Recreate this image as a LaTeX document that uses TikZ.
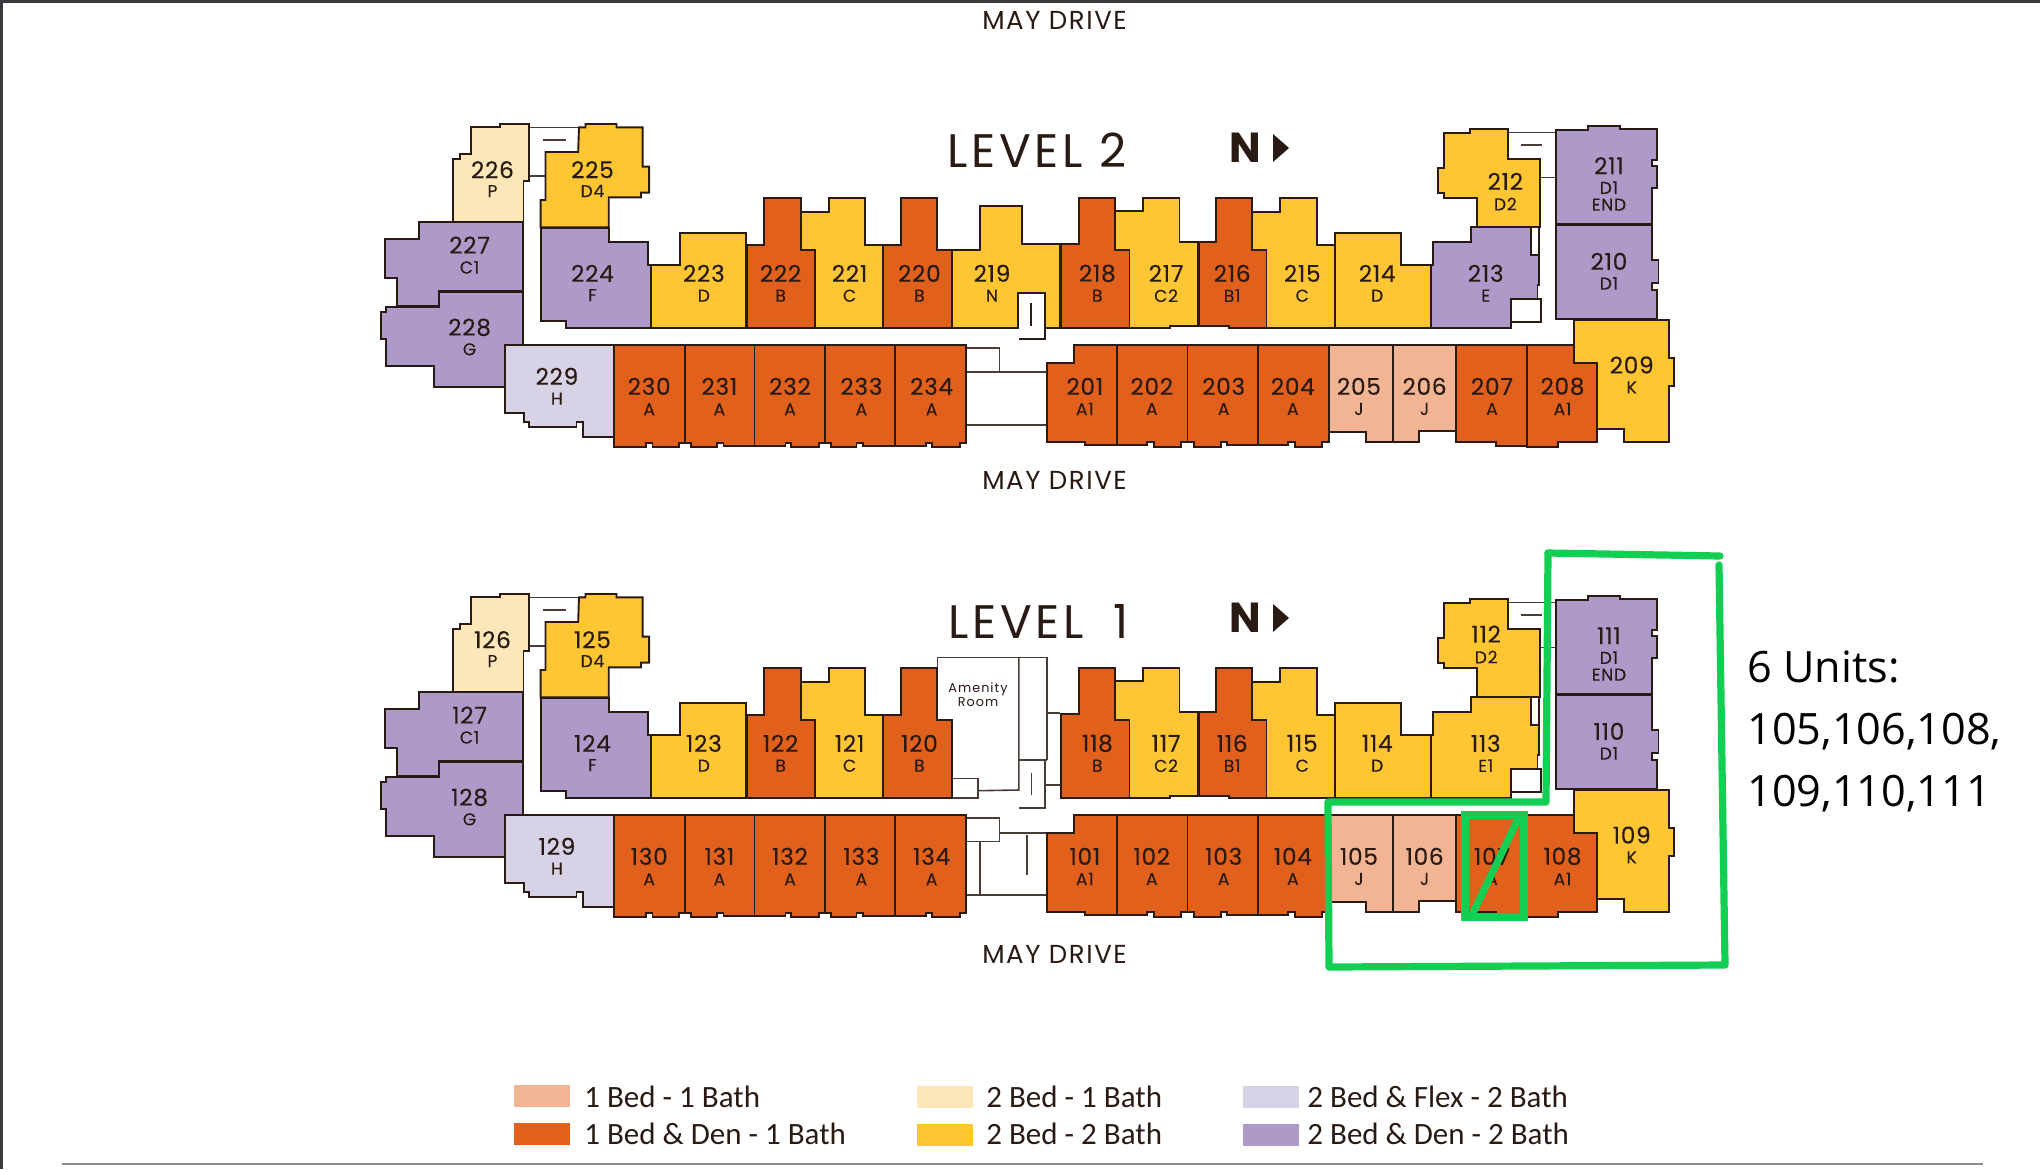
\documentclass[tikz,border=0pt]{standalone}
\usepackage{fontspec}
\setmainfont{Open Sans}
\newfontfamily\plan{Poppins}
\newfontfamily\planw{Poppins}[LetterSpace=3,FakeBold=0.25]
\newfontfamily\planc{Poppins}[LetterSpace=4,FakeBold=0.15]
\newfontfamily\planl{Poppins}[LetterSpace=7.6]
\newfontfamily\planr{Poppins}[LetterSpace=6]
\newfontfamily\plana{Poppins}[LetterSpace=8]
\newfontfamily\legendf{Carlito}
\definecolor{peach}{HTML}{F2B594}
\definecolor{orng}{HTML}{E0601C}
\definecolor{pale}{HTML}{FDE7B8}
\definecolor{yell}{HTML}{FEC632}
\definecolor{lilac}{HTML}{D8D2E6}
\definecolor{purp}{HTML}{AD9AC8}
\definecolor{ink}{HTML}{2A1A14}
\definecolor{mark}{HTML}{12CE52}
\definecolor{rulec}{HTML}{8C8C8C}
\definecolor{edge}{HTML}{3A3A3E}
\tikzset{
  wall/.style={draw=ink,line width=0.95pt,line join=miter},
  thin wall/.style={draw=ink!85,line width=0.8pt},
  numl/.style={font=\planw\fontsize{11.6}{13}\selectfont,text=ink,inner sep=0pt,yshift=0.5pt},
  codel/.style={font=\planc\fontsize{8.6}{10}\selectfont,text=ink,inner sep=0pt},
  road/.style={font=\planr\fontsize{13}{15}\selectfont,text=ink,inner sep=0pt},
  level/.style={font=\planl\fontsize{23.5}{27}\selectfont,text=ink,inner sep=0pt},
  north/.style={font=\plan\bfseries\fontsize{21}{24}\selectfont,text=ink,inner sep=0pt},
  legt/.style={font=\legendf\fontsize{15.5}{18}\selectfont,text=ink,inner sep=0pt,anchor=base west},
  swatch/.style={minimum width=28pt,minimum height=11pt,inner sep=0pt,draw=none,anchor=north west},
  greenline/.style={draw=mark,line width=3.6pt,line cap=round,line join=round},
  note/.style={font=\fontsize{21.6}{26}\selectfont,text=black,inner sep=0pt,anchor=base west},
}
\newcommand\unit[2]{\draw[wall,fill=#1] plot coordinates {#2} -- cycle;}
\newcommand\lab[5]{\node[numl] (n\fl#1) at (#3,#4) {\fl#1};\node[codel] (c\fl#1) at (#3,#5) {#2};}
\newcommand\lvlcommon[7]{%
\def\fl{#1}%
\begin{scope}[yshift=#4]
\begin{scope}[shift={(370,110)},xscale=0.40816,yscale=0.33333]
\draw[thin wall] (390,52) -- (512,52) (424,90) -- (480,90) (390,198) -- (430,198);
\unit{pale}{(248,52)(318,52)(318,42)(390,42)(390,212)(376,212)(376,335)(204,335)(204,148)(220,148)(220,132)(248,132)}
\unit{yell}{(512,52)(528,52)(528,42)(604,42)(604,52)(668,52)(668,170)(684,170)(684,248)(664,248)(664,262)(585,262)(585,352)(418,352)(418,270)(430,270)(430,126)(510,126)}
\unit{purp}{(120,337)(374,337)(374,543)(170,543)(170,587)(66,587)(66,505)(36,505)(36,388)(120,388)}
\unit{purp}{(170,545)(374,545)(374,706)(330,706)(330,830)(156,830)(156,767)(40,767)(40,688)(26,688)(26,605)(40,605)(40,590)(170,590)}
\unit{purp}{(418,355)(585,355)(585,395)(680,395)(680,465)(688,465)(688,655)(480,655)(480,632)(418,632)}
\unit{yell}{(688,466)(760,466)(760,368)(922,368)(922,655)(688,655)}
\unit{orng}{(966,405)(966,265)(1056,265)(1056,420)(1090,420)(1090,655)(924,655)(924,405)}
\unit{yell}{(1056,305)(1124,305)(1124,265)(1212,265)(1212,406)(1256,406)(1256,655)(1090,655)(1090,420)(1056,420)}
\unit{orng}{(1258,406)(1302,406)(1302,263)(1390,263)(1390,420)(1426,420)(1426,655)(1258,655)}
\unit{lilac}{(330,706)(598,706)(598,980)(522,980)(522,935)(506,935)(506,952)(390,952)(390,935)(378,935)(378,908)(330,908)}
\unit{orng}{(598,706)(771,706)(771,998)(756,998)(756,1010)(692,1010)(692,998)(676,998)(676,1010)(598,1010)}
\unit{orng}{(771,706)(942,706)(942,1007)(866,1007)(866,998)(850,998)(850,1010)(786,1010)(786,998)(771,998)}
\unit{orng}{(942,706)(1115,706)(1115,998)(1100,998)(1100,1010)(1032,1010)(1032,998)(1018,998)(1018,1007)(942,1007)}
\unit{orng}{(1115,706)(1287,706)(1287,1007)(1208,1007)(1208,998)(1192,998)(1192,1010)(1130,1010)(1130,998)(1115,998)}
\unit{orng}{(1287,706)(1460,706)(1460,998)(1445,998)(1445,1010)(1376,1010)(1376,998)(1362,998)(1362,1007)(1287,1007)}
\lab{26}{P}{300}{182}{243}
\lab{25}{D4}{545}{182}{243}
\lab{27}{C1}{244}{408}{472}
\lab{28}{G}{244}{655}{718}
\lab{24}{F}{545}{493}{555}
\lab{23}{D}{818}{493}{557}
\lab{22}{B}{1006}{493}{557}
\lab{21}{C}{1175}{493}{557}
\lab{20}{B}{1346}{493}{557}
\lab{29}{H}{458}{802}{866}
\lab{30}{A}{684}{832}{898}
\lab{31}{A}{856}{832}{898}
\lab{32}{A}{1029}{832}{898}
\lab{33}{A}{1204}{832}{898}
\lab{34}{A}{1376}{832}{898}
\end{scope}
\begin{scope}[shift={(1000,110)},xscale=0.44643,yscale=0.33333]
\draw[thin wall] (1137,68) -- (1245,68) (1167,105) -- (1214,105) (1210,203) -- (1245,203);
\draw[wall,fill=white] (1190,352) rectangle (1208,434);
\draw[wall,fill=white] (1145,568) rectangle (1212,635);
\unit{orng}{(176,402)(176,265)(258,265)(258,420)(290,420)(290,655)(136,655)(136,402)}
\unit{yell}{(258,302)(320,302)(320,265)(402,265)(402,397)(444,397)(444,647)(380,647)(380,655)(290,655)(290,420)(258,420)}
\unit{orng}{(446,397)(484,397)(484,265)(565,265)(565,420)(597,420)(597,655)(512,655)(512,647)(446,647)}
\unit{yell}{(565,305)(628,305)(628,265)(710,265)(710,406)(750,406)(750,655)(597,655)(597,420)(565,420)}
\unit{yell}{(750,368)(898,368)(898,466)(966,466)(966,655)(750,655)}
\unit{#2}{(970,395)(1056,395)(1056,352)(1190,352)(1190,434)(1208,434)(1208,525)(1204,525)(1204,568)(1145,568)(1145,655)(966,655)(966,466)(970,466)}
\unit{yell}{(995,68)(1052,68)(1052,58)(1137,58)(1137,146)(1210,146)(1210,350)(1068,350)(1068,263)(995,263)(995,250)(982,250)(982,175)(995,175)}
\unit{purp}{(1245,60)(1318,60)(1318,48)(1388,48)(1388,58)(1472,58)(1472,150)(1460,150)(1460,168)(1472,168)(1472,235)(1460,235)(1460,342)(1245,342)}
\unit{purp}{(1245,345)(1460,345)(1460,450)(1475,450)(1475,518)(1460,518)(1460,540)(1472,540)(1472,628)(1245,628)}
\unit{orng}{(165,706)(262,706)(262,1005)(190,1005)(190,995)(105,995)(105,758)(165,758)}
\unit{orng}{(262,706)(420,706)(420,997)(405,997)(405,1010)(345,1010)(345,997)(330,997)(330,1005)(262,1005)}
\unit{orng}{(420,706)(577,706)(577,1005)(508,1005)(508,997)(495,997)(495,1010)(435,1010)(435,997)(420,997)}
\unit{orng}{(577,706)(736,706)(736,997)(722,997)(722,1012)(660,1012)(660,997)(645,997)(645,1005)(577,1005)}
\unit{peach}{(736,706)(880,706)(880,995)(820,995)(820,965)(736,965)}
\unit{peach}{(880,706)(1022,706)(1022,963)(938,963)(938,995)(880,995)}
\unit{orng}{(1022,706)(1180,706)(1180,1008)(1112,1008)(1112,995)(1022,995)}
\unit{orng}{(1180,706)(1285,706)(1285,758)(1338,758)(1338,995)(1250,995)(1250,1010)(1180,1010)}
\unit{yell}{(1285,630)(1498,630)(1498,745)(1510,745)(1510,828)(1498,828)(1498,995)(1398,995)(1398,957)(1338,957)(1338,758)(1285,758)}
\lab{18}{B}{218}{493}{557}
\lab{17}{C2}{372}{493}{557}
\lab{16}{B1}{520}{493}{557}
\lab{15}{C}{677}{493}{557}
\lab{14}{D}{845}{493}{557}
\lab{13}{#3}{1088}{493}{557}
\lab{12}{D2}{#5}{#6}{#7}
\lab{11}{D1}{1364}{170}{233}
\node[codel] (e\fl11) at (1364,284) {END};
\lab{10}{D1}{1364}{457}{520}
\lab{09}{K}{1415}{768}{832}
\lab{01}{A1}{190}{832}{897}
\lab{02}{A}{340}{832}{897}
\lab{03}{A}{501}{832}{897}
\lab{04}{A}{656}{832}{897}
\lab{05}{J}{804}{832}{897}
\lab{06}{J}{951}{832}{897}
\lab{07}{A}{1102}{832}{897}
\lab{08}{A1}{1260}{832}{897}
\end{scope}
\node[north] (north\fl) at (1245,148) {N};
\fill[ink] (1273,134) -- (1289,148) -- (1273,162) -- cycle;
\end{scope}}
\begin{document}
\begin{tikzpicture}[x=0.5pt,y=-0.5pt]
\useasboundingbox (0,0) rectangle (2040,1169);
\fill[white] (0,0) rectangle (2040,1169);
\draw[edge,line width=1.5pt] (1.5,1169) -- (1.5,1.5) -- (2040,1.5);
\node[road] (road0) at (1054.5,20) {MAY DRIVE};
\node[road] (road2) at (1054.5,480) {MAY DRIVE};
\node[road] (road1) at (1054.5,954) {MAY DRIVE};
\node[level] (lev2) at (1037,150.5) {LEVEL 2};
\node[level] (lev1) at (1039,621.5) {LEVEL\hspace{7pt} 1};
% level 2 extras
\draw[thin wall] (966.7,348) -- (999.4,348) -- (999.4,372) -- (966.7,372);
\draw[thin wall] (999.4,372) -- (1047,372) (966.7,425) -- (1047,425);
\lvlcommon{2}{purp}{E}{0pt}{1132}{217}{282}
\unit{yell}{(952,250)(979.8,250)(979.8,206)(1022.3,206)(1022.3,244)(1060.3,244)(1060.3,328.3)(1044.6,328.3)(1044.6,292.7)(1017.9,292.7)(1017.9,328.3)(952,328.3)}
\draw[wall] (1044.6,292.7) -- (1044.6,339.3) -- (1018.5,339.3);
\draw[wall] (1031.3,303.3) -- (1031.3,326);
\node[numl] (n219) at (992,274.3) {219};
\node[codel] (c219) at (992,295.7) {N};
% level 1 extras
\draw[thin wall] (966.7,818) -- (999.4,818) -- (999.4,841.5) -- (966.7,841.5);
\draw[thin wall] (999.4,833) -- (1047,833) (966.7,895) -- (1047,895);
\draw[thin wall] (980,841.5) -- (980,895) (1027,835) -- (1027,875);
\draw[thin wall] (937.3,700) -- (937.3,657.3) -- (1047.2,657.3) -- (1047.2,760);
\draw[thin wall] (1018.9,657.3) -- (1018.9,790) -- (978,790.7);
\draw[thin wall] (1018.9,760) -- (1047.2,760);
\draw[thin wall] (1044.8,760) -- (1044.8,808) -- (1018.9,808);
\draw[thin wall] (1031.6,773) -- (1031.6,795) (1044.8,785) -- (1060.4,785) (1047.2,713) -- (1060.4,713);
\draw[thin wall] (952,778.3) -- (978,778.3) -- (978,797.7) -- (952,797.7);
\node[font=\plana\fontsize{6.4}{7}\selectfont,text=ink,inner sep=0pt,align=center] (amen) at (978,694.5) {Amenity\\Room};
\begin{scope}
\lvlcommon{1}{yell}{E1}{-235pt}{1089}{165}{231}
\end{scope}
% legend
\node[swatch,fill=peach] (s1) at (514,1085) {};
\node[swatch,fill=orng] (s2) at (514,1123) {};
\node[swatch,fill=pale] (s3) at (917,1086) {};
\node[swatch,fill=yell] (s4) at (917,1124) {};
\node[swatch,fill=lilac] (s5) at (1243,1086) {};
\node[swatch,fill=purp] (s6) at (1243,1124) {};
\node[legt] (t1) at (584,1107) {1 Bed - 1 Bath};
\node[legt] (t2) at (584,1144) {1 Bed \& Den - 1 Bath};
\node[legt] (t3) at (986,1107) {2 Bed - 1 Bath};
\node[legt] (t4) at (986,1144) {2 Bed - 2 Bath};
\node[legt] (t5) at (1307,1107) {2 Bed \& Flex - 2 Bath};
\node[legt] (t6) at (1307,1144) {2 Bed \& Den - 2 Bath};
\draw[rulec,line width=1pt] (62,1164) -- (1983,1164);
% green marks
\draw[greenline] (1548,553) -- (1720,556);
\draw[greenline] (1719,565) -- (1725,965) -- (1329,967) -- (1328,802) -- (1546,802) -- (1548,553);
\draw[greenline,line cap=butt,line join=miter] (1465,815) rectangle (1524,917);
\draw[greenline,line cap=butt] (1519,817) -- (1472,915);
% note
\node[note] (l1) at (1747,682) {6 Units:};
\node[note] (l2) at (1747,744) {105,106,108,};
\node[note] (l3) at (1747,806) {109,110,111};
\end{tikzpicture}
\end{document}
